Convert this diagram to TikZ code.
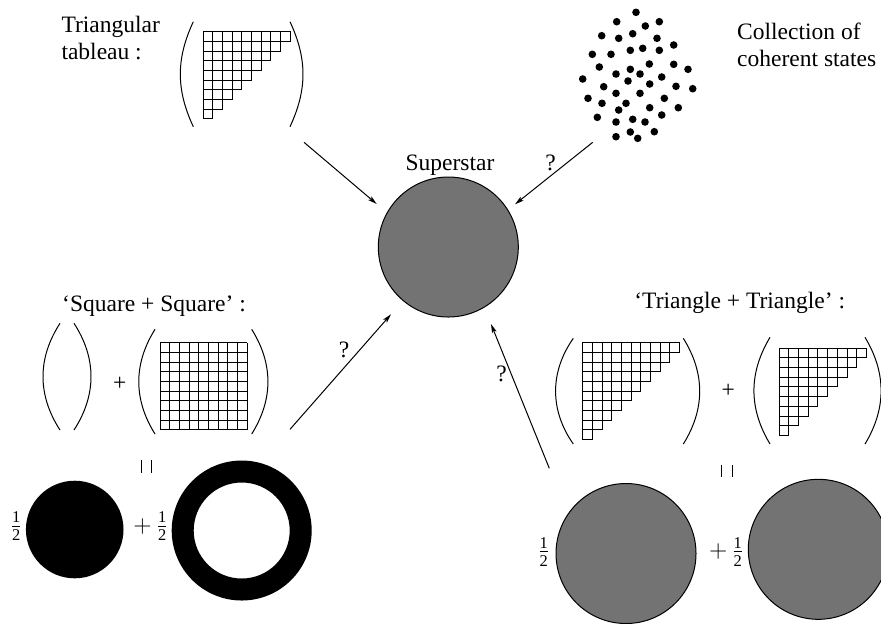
\documentclass[tikz,border=0pt]{standalone}
\usepackage{amsmath}
\usepackage{fontspec}
\setmainfont{Liberation Serif}
\usetikzlibrary{arrows.meta}

\tikzset{
  disk/.style={circle, draw, fill=black!55, inner sep=0pt, minimum size=70pt},
  toss/.style={-{Stealth[length=4.5pt,width=2.4pt,inset=1pt]}},
  label text/.style={inner sep=0pt, align=left}
}
% staircase of boxes: x, y (top left), rows, cell size
\newcommand\staircase[4]{%
  \foreach \r in {1,...,#3} {
    \pgfmathtruncatemacro\m{#3-\r}
    \foreach \c in {0,...,\m}
      \draw (#1+\c*#4,#2+\r*#4-#4) rectangle ++(#4,#4);
  }}

\begin{document}
\begin{tikzpicture}[x=0.5pt, y=-0.5pt, line width=0.5pt,
    every node/.style={font=\fontsize{11.75}{13.4}\selectfont}]
  \useasboundingbox (0,0) rectangle (881,623);

  % top left: triangular tableau
  \node[label text, anchor=base west] (tabtext) at (61,59) {Triangular\\tableau :};
  \draw (193.3,21.7) to[bend right=25] (193.3,126.7);
  \draw (290,21.7) to[bend left=25] (290,126.7);
  \staircase{203.3}{31.7}{9}{9.67}

  % top right: coherent states
  \foreach \px/\py in {636/12.3, 616.7/21.7, 659.3/21.7, 645.3/26, 601.7/35.7,
      618.7/38.3, 632.7/33.7, 657/38.3, 673.7/45, 642.7/48.3, 630.3/50.3,
      659.3/50.3, 592.3/54.3, 611/54.3, 599.3/67, 649.3/64, 673.7/64.3,
      688/69.3, 630.3/69.3, 616/74, 640/74, 582.7/79, 628/81, 661.7/77,
      603.7/86.7, 649.7/84, 676/86.3, 692.7/88.7, 616/93.3, 640/93.3,
      588/98.3, 664.3/98.3, 602/103.3, 626/103.3, 618.7/110, 649.7/107.7,
      678.3/107.7, 661.7/115, 597.3/117.3, 616/122, 632.7/119.3, 645/122,
      654.3/131.7, 630.3/132, 616/136.7, 637.7/138.3}
    \fill (\px,\py) circle [radius=1.9pt];
  \node[label text, anchor=base west] (cohtext) at (736.7,66.7) {Collection of\\coherent states};

  % centre
  \node[disk] (star) at (448.3,247) {};
  \node[inner sep=0pt, anchor=base] (startext) at (450,170.7) {Superstar};

  % arrows into the superstar
  \coordinate (tabout) at (304,142.3);
  \coordinate (tabin) at (376.7,204);
  \coordinate (cohout) at (592.7,142.3);
  \coordinate (cohin) at (515,204.3);
  \coordinate (sqout) at (290,429.3);
  \coordinate (sqin) at (391,314.3);
  \coordinate (triout) at (549.3,468.3);
  \coordinate (triin) at (491,324);
  \draw[toss] (tabout) -- (tabin);
  \draw[toss] (cohout) -- (cohin);
  \draw[toss] (sqout) -- (sqin);
  \draw[toss] (triout) -- (triin);
  \node (q1) at (550.7,163.3) {?};
  \node (q2) at (344,350) {?};
  \node (q3) at (501.7,374) {?};

  % bottom left: square + square
  \node[inner sep=0pt, anchor=base] (sqtext) at (154,311.7) {`Square + Square' :};
  \draw (60,323.3) to[bend right=33] (60,430);
  \draw (74,323.3) to[bend left=33] (74,430);
  \node (sqplus) at (119.7,384) {+};
  \draw (155,329.3) to[bend right=32] (155,434);
  \draw (251.7,329.3) to[bend left=32] (251.7,434);
  \foreach \i in {0,...,9} {
    \draw (160+\i*9.67,342.7) -- ++(0,87);
    \draw (160,342.7+\i*9.67) -- ++(87,0);
  }
  \draw (141.3,460) -- (141.3,472.7);
  \draw (151.7,460) -- (151.7,472.7);
  \node[inner sep=1pt] (halfa) at (16.2,526) {\(\tfrac{\text{1}}{\text{2}}\)};
  \fill (74.7,529.5) circle [radius=24.4pt];
  \node[inner sep=1pt] (halfb) at (151,526) {\(+\,\tfrac{\text{1}}{\text{2}}\)};
  \fill[even odd rule] (241.7,530.5) circle [radius=35pt] (241.7,530.5) circle [radius=24pt];

  % bottom right: triangle + triangle
  \node[inner sep=0pt, anchor=base] (tritext) at (739.7,308.3) {`Triangle + Triangle' :};
  \draw (573.3,338.3) to[bend right=35] (573.3,444);
  \draw (683.3,338.3) to[bend left=32] (683.3,444);
  \staircase{582.7}{342.7}{10}{9.67}
  \node (triplus) at (728.3,391) {+};
  \draw (770,337.3) to[bend right=31] (770,444);
  \draw (865,337.3) to[bend left=31] (865,444);
  \staircase{779.3}{348.3}{9}{9.67}
  \draw (721,465) -- (721,477.3);
  \draw (732,465) -- (732,477.3);
  \node[inner sep=1pt] (halfc) at (543.8,551.7) {\(\tfrac{\text{1}}{\text{2}}\)};
  \node[disk] (graya) at (626,553.5) {};
  \node[inner sep=1pt] (halfd) at (726.7,551.7) {\(+\,\tfrac{\text{1}}{\text{2}}\)};
  \node[disk] (grayb) at (818.3,549.3) {};
\end{tikzpicture}
\end{document}
